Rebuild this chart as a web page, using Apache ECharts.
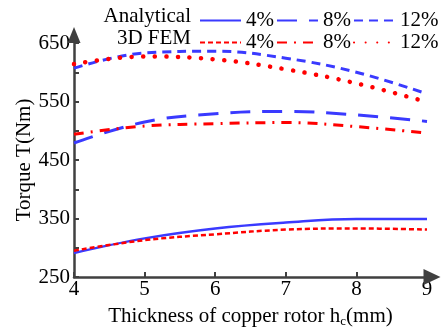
<!DOCTYPE html>
<html>
<head>
<meta charset="utf-8">
<script src="https://cdn.jsdelivr.net/npm/echarts@6/dist/echarts.min.js"></script>
<style>html,body{margin:0;padding:0;background:#fff}#c{width:441px;height:327px}</style>
</head>
<body>
<div id="c"></div>
<script>
var thickness = [4, 5, 6, 7, 8, 9];
var ana4 = [291, 316, 333, 343, 349, 349];
var ana8 = [479, 515, 529, 533, 527, 516];
var ana12 = [607, 633, 636, 624, 600, 563];
var fem4 = [295, 313, 323, 331, 333, 331];
var fem8 = [494, 508, 512, 514, 507, 496];
var fem12 = [614, 627, 622, 605, 581, 549];
var yTicks = [250, 350, 450, 550, 650];
var xTicks = [4, 5, 6, 7, 8, 9];

var FONT = 'Liberation Serif';
var BLUE = '#3a3aff';
var RED = '#ff0000';
var AXIS = '#404040';

function pairs(vals) { return thickness.map(function (x, i) { return [x, vals[i]]; }); }
function mk(name, vals, color, type, width, cap) {
  return {
    name: name, type: 'line', data: pairs(vals), smooth: 0.4, symbol: 'none',
    lineStyle: { color: color, width: width, type: type, cap: cap || 'butt' },
    itemStyle: { color: color }, z: 3
  };
}
var chart = echarts.init(document.getElementById('c'));
var legText = { fontFamily: FONT, fontSize: 21, color: '#000' };
function leg(top, names) {
  return { left: 199, top: top, width: 242, padding: 0, itemWidth: 41, itemHeight: 14, itemGap: 2,
    selectedMode: false, textStyle: legText, itemStyle: { opacity: 0 },
    data: names, formatter: function (n) { return n.split(' ').pop(); } };
}
chart.setOption({
  animation: false,
  grid: { left: 74, right: 14, top: 43, bottom: 50, outerBoundsMode: 'none', containLabel: false },
  graphic: [
    { type: 'text', right: 441 - 191, top: 6, style: { text: 'Analytical', font: '21px ' + FONT, fill: '#000', textAlign: 'right' } },
    { type: 'text', right: 441 - 191, top: 28, style: { text: '3D FEM', font: '21px ' + FONT, fill: '#000', textAlign: 'right' } }
  ],
  legend: [
    leg(10, ['Analytical 4%', 'Analytical 8%', 'Analytical 12%']),
    leg(32, ['3D FEM 4%', '3D FEM 8%', '3D FEM 12%'])
  ],
  xAxis: {
    type: 'value', min: 4, max: 9, interval: 1,
    name: 'Thickness of copper rotor h{sub|c}(mm)', nameLocation: 'middle', nameGap: 28, nameMoveOverlap: false,
    nameTextStyle: { fontFamily: FONT, fontSize: 21, color: '#000',
      rich: { sub: { fontFamily: FONT, fontSize: 13, color: '#000', verticalAlign: 'bottom', padding: [10, 0, 0, 0] } } },
    axisLine: { show: true, lineStyle: { color: AXIS, width: 2.5 }, symbol: ['none', 'triangle'], symbolSize: [16, 17], symbolOffset: [0, 5] },
    axisTick: { show: true, inside: true, length: 5, lineStyle: { color: AXIS, width: 2 } },
    axisLabel: { fontFamily: FONT, fontSize: 21, color: '#000', margin: 2,
      formatter: function (v) { return xTicks.indexOf(v) >= 0 ? String(v) : ''; } },
    splitLine: { show: false }
  },
  yAxis: {
    type: 'value', min: 250, max: 650, interval: 100,
    name: 'Torque T(Nm)', nameLocation: 'middle', nameGap: 39, nameMoveOverlap: false,
    nameTextStyle: { fontFamily: FONT, fontSize: 21, color: '#000' },
    axisLine: { show: true, lineStyle: { color: AXIS, width: 2.5 }, symbol: ['none', 'triangle'], symbolSize: [13, 16], symbolOffset: [0, 8] },
    axisTick: { show: true, inside: true, length: 5, lineStyle: { color: AXIS, width: 2 } },
    minorTick: { show: true, splitNumber: 2, length: 5, lineStyle: { color: AXIS, width: 2 } },
    axisLabel: { fontFamily: FONT, fontSize: 21, color: '#000', margin: 4,
      formatter: function (v) { return yTicks.indexOf(v) >= 0 ? String(v) : ''; } },
    splitLine: { show: false }
  },
  series: [
    mk('Analytical 4%', ana4, BLUE, 'solid', 2.5),
    mk('Analytical 8%', ana8, BLUE, [20, 12], 3),
    mk('Analytical 12%', ana12, BLUE, [9, 6], 3),
    mk('3D FEM 4%', fem4, RED, [5, 3], 2.5),
    mk('3D FEM 8%', fem8, RED, [10, 7, 2, 7], 3),
    mk('3D FEM 12%', fem12, RED, [0.1, 11.5], 4.5, 'round')
  ]
});
</script>
</body>
</html>
